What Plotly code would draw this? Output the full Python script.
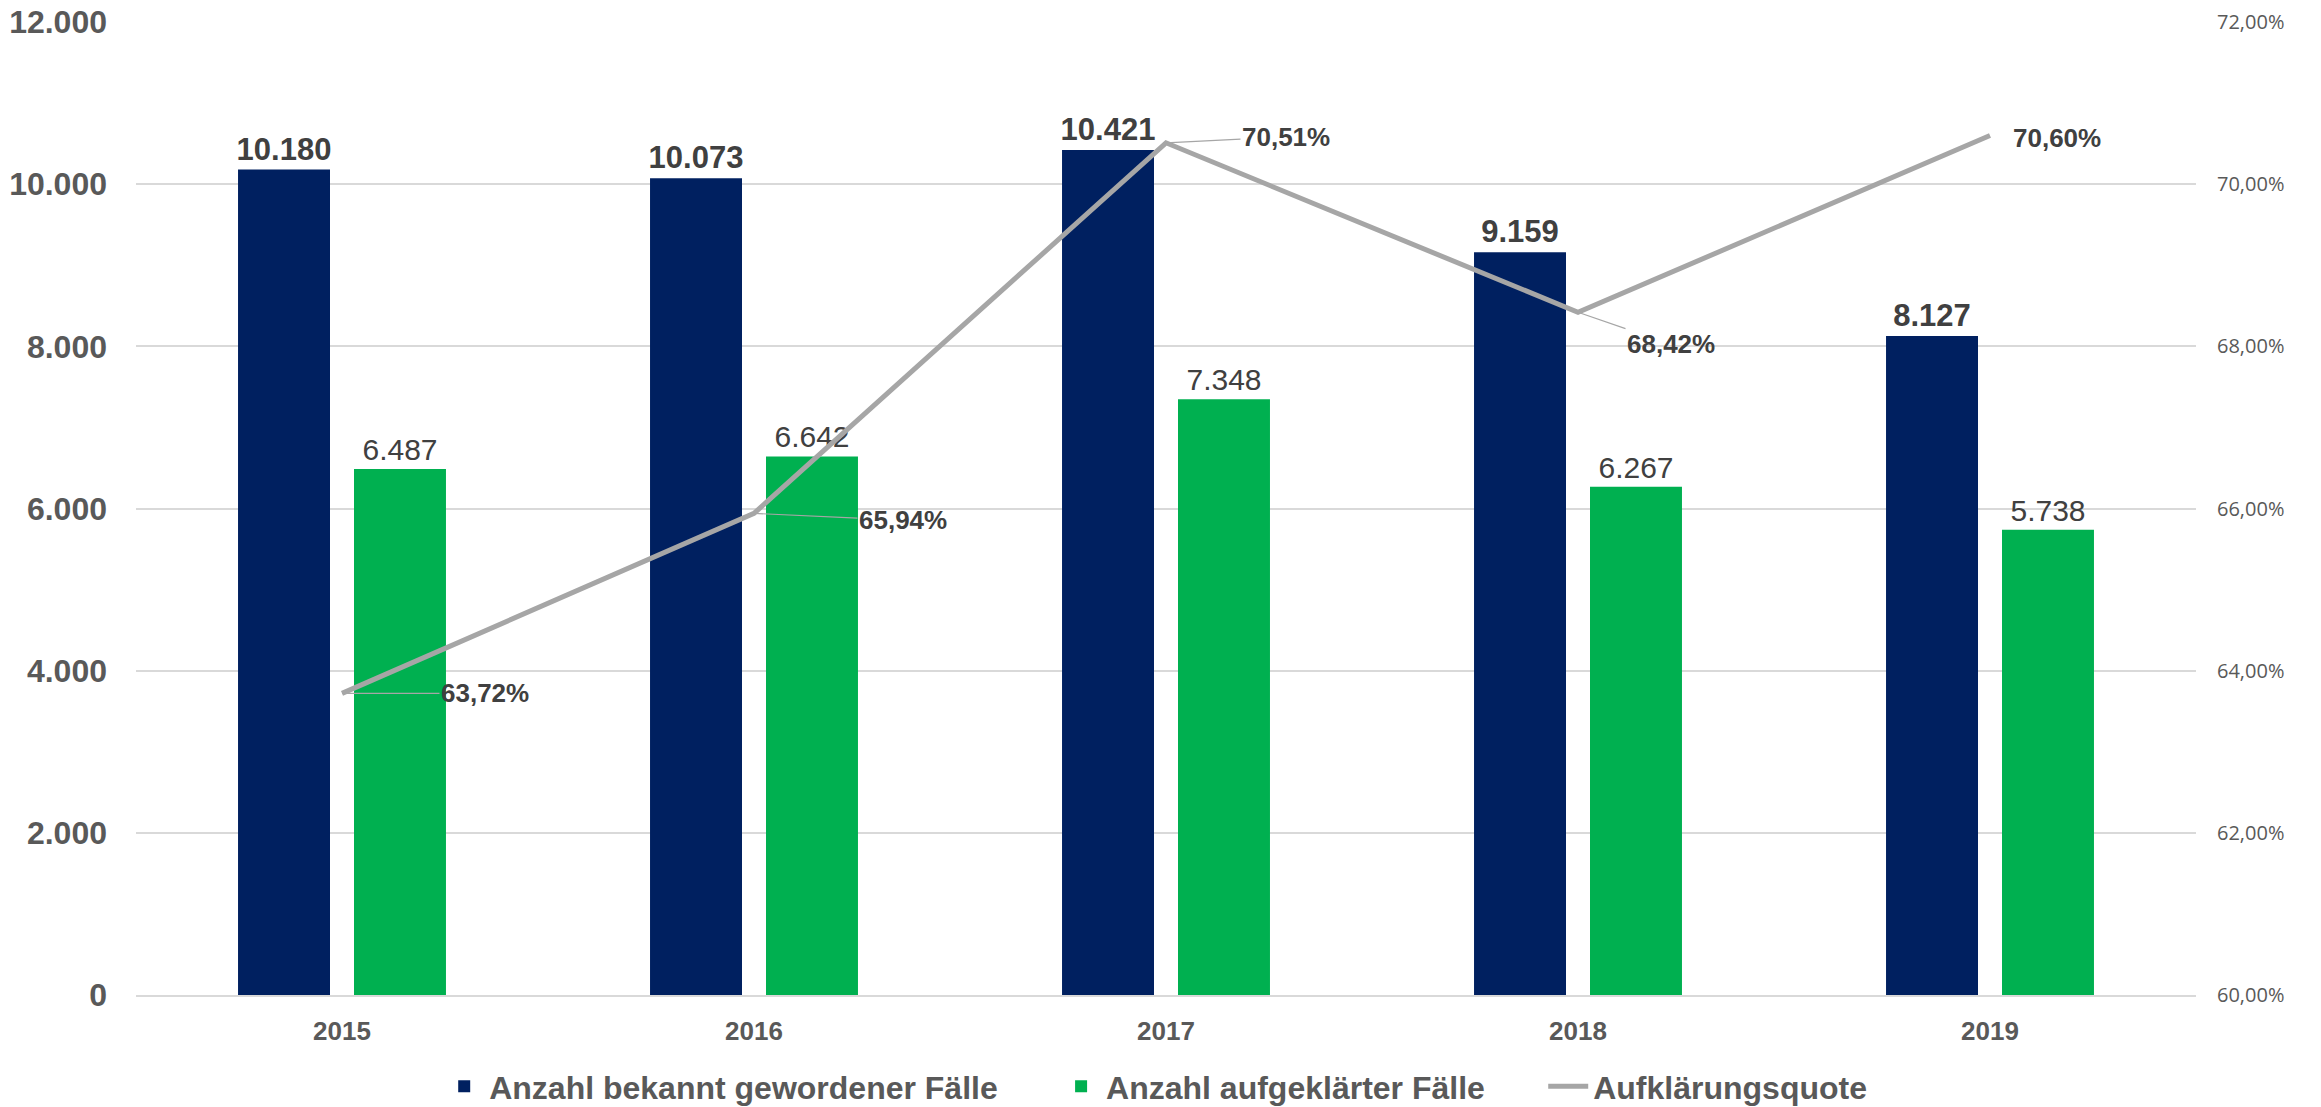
import plotly.graph_objects as go
from plotly.subplots import make_subplots

years = ["2015", "2016", "2017", "2018", "2019"]
bekannt = [10180, 10073, 10421, 9159, 8127]
aufgeklaert = [6487, 6642, 7348, 6267, 5738]
quote = [0.6372, 0.6594, 0.7051, 0.6842, 0.7060]

# label offsets (pixels) for the rate labels, leader line drawn when shown
label_ax = [143, 149, 120, 93, 67]
label_ay = [0, 7, -6, 32, 2]
label_arrow = [True, True, True, True, False]

NAVY = "#002060"
GREEN = "#00B050"
GREY = "#A6A6A6"
FONT = "Liberation Sans"
GAP = "\u00a0" * 6  # extra space between legend entries

fig = make_subplots(specs=[[{"secondary_y": True}]])

fig.add_trace(
    go.Bar(
        x=years,
        y=bekannt,
        name="Anzahl bekannt gewordener Fälle" + GAP,
        marker=dict(color=NAVY, line=dict(width=0)),
        texttemplate="%{y:,}",
        textposition="outside",
        constraintext="none",
        cliponaxis=False,
        textfont=dict(family=FONT, size=31, color="#404040", weight="bold"),
    ),
    secondary_y=False,
)

fig.add_trace(
    go.Bar(
        x=years,
        y=aufgeklaert,
        name="Anzahl aufgeklärter Fälle" + GAP,
        marker=dict(color=GREEN, line=dict(width=0)),
        texttemplate="%{y:,}",
        textposition="outside",
        constraintext="none",
        cliponaxis=False,
        textfont=dict(family=FONT, size=30, color="#404040"),
    ),
    secondary_y=False,
)

fig.add_trace(
    go.Scatter(
        x=years,
        y=quote,
        name="Aufklärungsquote",
        mode="lines",
        line=dict(color=GREY, width=5),
    ),
    secondary_y=True,
)

# annotations on a category axis take the category index
for i, (q, ax, ay, arrow) in enumerate(zip(quote, label_ax, label_ay, label_arrow)):
    pct = f"{q * 100:.2f}".replace(".", ",") + "%"
    ann = dict(
        x=i,
        y=q,
        xref="x",
        yref="y2",
        text=pct,
        font=dict(family=FONT, size=26, color="#404040", weight="bold"),
    )
    if arrow:
        ann.update(showarrow=True, ax=ax, ay=ay, arrowhead=0,
                   arrowwidth=1.2, arrowcolor=GREY, standoff=0)
    else:
        ann.update(showarrow=False, xshift=ax, yshift=-ay)
    fig.add_annotation(**ann)

fig.update_layout(
    width=2321,
    height=1107,
    margin=dict(l=136, r=125, t=22, b=112, autoexpand=False),
    paper_bgcolor="white",
    plot_bgcolor="white",
    separators=",.",
    barmode="group",
    bargap=0.437,
    bargroupgap=0.207,
    font=dict(family=FONT, color="#595959"),
    showlegend=True,
    legend=dict(
        orientation="h",
        x=0.495,
        xanchor="center",
        y=-0.094,
        yanchor="middle",
        font=dict(family=FONT, size=32, color="#595959", weight="bold"),
        itemwidth=40,
    ),
)

fig.update_xaxes(
    type="category",
    range=[-0.5, 4.5],
    domain=[0, 1],
    showgrid=False,
    showline=True,
    linecolor="#D9D9D9",
    linewidth=2,
    ticks="",
    tickfont=dict(family=FONT, size=26, color="#595959", weight="bold"),
    ticklabelstandoff=12,
)

fig.update_yaxes(
    range=[0, 12000],
    dtick=2000,
    tickformat=",d",
    showgrid=True,
    gridcolor="#D9D9D9",
    gridwidth=1.5,
    zeroline=False,
    showline=False,
    tickfont=dict(family=FONT, size=32, color="#595959", weight="bold"),
    ticklabelstandoff=28,
    ticklabeloverflow="allow",
    secondary_y=False,
)

fig.update_yaxes(
    range=[0.60, 0.72],
    dtick=0.02,
    tickformat=".2%",
    showgrid=False,
    zeroline=False,
    showline=False,
    tickfont=dict(family="Open Sans", size=20, color="#595959"),
    ticklabelstandoff=20,
    ticklabeloverflow="allow",
    secondary_y=True,
)

# drop the default body margin so the figure fills the window exactly
fig.write_html(
    "out.html",
    config={"displayModeBar": False},
    post_script="document.body.style.margin = '0';",
)
